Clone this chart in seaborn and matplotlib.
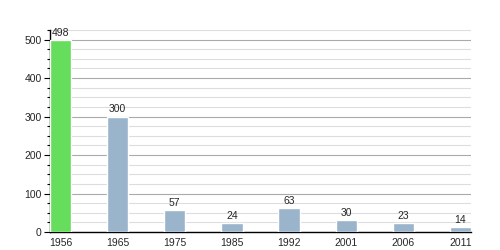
import matplotlib
matplotlib.use("Agg")
import matplotlib.pyplot as plt
import seaborn as sns
import pandas as pd
from matplotlib.ticker import MultipleLocator

years = ["1956", "1965", "1975", "1985", "1992", "2001", "2006", "2011"]
values = [498, 300, 57, 24, 63, 30, 23, 14]
colors = ["#66dd5c"] + ["#9ab4cc"] * 7

sns.set_style("white")
plt.rcParams['font.family'] = ['Liberation Sans', 'DejaVu Sans']

df = pd.DataFrame({"year": years, "value": values})

fig = plt.figure(figsize=(5, 2.5), dpi=100)
ax = fig.add_axes([0.1, 0.072, 0.842, 0.808])

w = 0.37
sns.barplot(data=df, x="year", y="value", hue="year", palette=colors,
            width=w, legend=False, ax=ax, saturation=1, zorder=3)

ax.set_ylim(0, 525)
ax.set_xlim(-w / 2, len(years) - 1 + w / 2)
ax.yaxis.set_major_locator(MultipleLocator(100))
ax.yaxis.set_minor_locator(MultipleLocator(25))
ax.grid(which="major", axis="y", color="#aaaaaa", linewidth=0.8, zorder=0)
ax.grid(which="minor", axis="y", color="#dddddd", linewidth=0.8, zorder=0)
ax.set_axisbelow(True)

for s in ["top", "right"]:
    ax.spines[s].set_visible(False)
for s in ["left", "bottom"]:
    ax.spines[s].set_color("black")
    ax.spines[s].set_linewidth(1.0)

ax.tick_params(axis="y", which="major", left=True, length=4, width=0.8,
               color="black", labelsize=7.5, pad=2)
ax.tick_params(axis="y", which="minor", left=True, length=2.5, width=0.8,
               color="black")
ax.tick_params(axis="x", bottom=False, labelsize=7.5, pad=1)
ax.set_xlabel("")
ax.set_ylabel("")

for i, v in enumerate(values):
    ax.annotate(str(v), (i, v), xytext=(0, 1.5), textcoords="offset points",
                ha="center", va="bottom", fontsize=7.5)

fig.savefig("out.png", dpi=100)
